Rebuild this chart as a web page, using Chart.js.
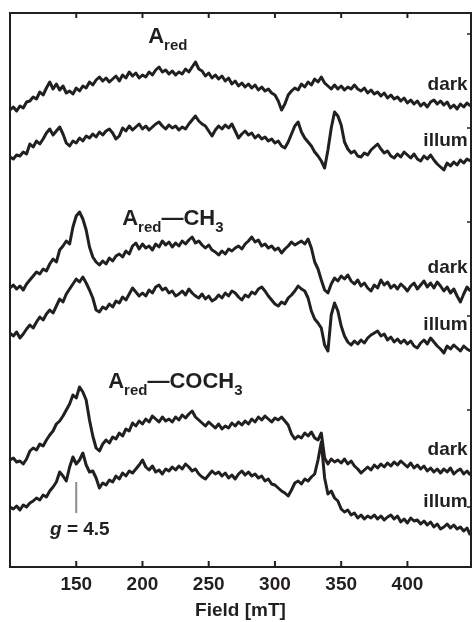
<!DOCTYPE html>
<html>
<head>
<meta charset="utf-8">
<script src="https://cdn.jsdelivr.net/npm/chart.js@4.4.1/dist/chart.umd.min.js"></script>
<style>
  html, body { margin: 0; padding: 0; background: #fff; }
  #wrap { width: 474px; height: 622px; }
</style>
</head>
<body>
<div id="wrap"><canvas id="eprChart" width="474" height="622"></canvas></div>
<script>
// magnetic field [mT], one sample every 2.5 mT
var fields = [
    100,102.5,105,107.5,110,112.5,115,117.5,120,122.5,
    125,127.5,130,132.5,135,137.5,140,142.5,145,147.5,
    150,152.5,155,157.5,160,162.5,165,167.5,170,172.5,
    175,177.5,180,182.5,185,187.5,190,192.5,195,197.5,
    200,202.5,205,207.5,210,212.5,215,217.5,220,222.5,
    225,227.5,230,232.5,235,237.5,240,242.5,245,247.5,
    250,252.5,255,257.5,260,262.5,265,267.5,270,272.5,
    275,277.5,280,282.5,285,287.5,290,292.5,295,297.5,
    300,302.5,305,307.5,310,312.5,315,317.5,320,322.5,
    325,327.5,330,332.5,335,337.5,340,342.5,345,347.5,
    350,352.5,355,357.5,360,362.5,365,367.5,370,372.5,
    375,377.5,380,382.5,385,387.5,390,392.5,395,397.5,
    400,402.5,405,407.5,410,412.5,415,417.5,420,422.5,
    425,427.5,430,432.5,435,437.5,440,442.5,445,447.5
];

// EPR signal (arb. units), each relative to its own baseline
var aredDark = [
    -10,-7,-11,-6,-8,-2,-1,3,1,8,
    5,12,18,11,16,10,14,7,9,6,
    12,9,14,12,18,15,20,23,19,22,
    18,21,24,19,25,22,28,24,27,22,
    25,23,28,25,30,33,28,30,26,29,
    25,28,26,31,28,33,38,31,29,24,
    27,22,25,21,24,19,22,16,19,14,
    17,13,16,12,15,10,13,9,11,7,
    5,-1,-10,-4,5,9,12,10,16,13,
    18,15,21,18,23,17,14,11,15,11,
    14,10,13,11,15,11,9,12,7,10,
    6,8,4,7,2,5,1,3,-1,2,
    -3,0,-4,-1,-6,-3,-7,-2,0,-4,
    -1,-5,-2,-8,-5,-9,-4,-7,-3,-6
];
var aredIllum = [
    -7,-9,-5,-6,-2,-4,6,3,9,6,
    11,17,21,15,19,23,16,7,4,9,
    7,12,9,14,12,16,13,18,15,19,
    21,17,11,14,22,19,24,20,23,26,
    21,24,20,23,26,28,24,21,25,22,
    24,20,23,21,26,30,34,29,26,24,
    19,14,20,24,21,25,22,26,19,12,
    16,19,15,17,12,15,11,13,9,11,
    7,9,4,2,8,16,24,28,18,12,
    8,4,-2,-6,-11,-18,0,22,38,34,
    25,8,1,-3,-1,-6,-7,-3,-5,0,
    3,6,1,-3,-1,-6,-8,-4,-7,-2,
    -5,-8,-4,-9,-11,-6,-9,-5,-10,-14,
    -17,-20,-13,-16,-12,-15,-10,-13,-9,-11
];
var methylDark = [
    -28,-25,-29,-26,-30,-24,-20,-16,-12,-14,
    -9,-11,-4,1,-2,10,14,19,16,33,
    44,48,41,30,13,3,-2,-5,-1,-4,
    2,-1,4,6,3,9,6,14,17,11,
    16,12,14,10,16,13,19,15,18,13,
    17,14,19,16,20,23,17,19,15,12,
    15,10,8,5,9,6,11,9,12,14,
    11,16,19,23,18,20,14,16,12,14,
    10,12,7,11,14,18,15,17,19,16,
    21,12,-2,-9,-20,-30,-33,-24,-18,-21,
    -16,-19,-15,-21,-24,-20,-26,-23,-28,-31,
    -25,-28,-20,-25,-22,-28,-25,-29,-24,-27,
    -31,-26,-23,-29,-25,-21,-27,-23,-28,-22,
    -26,-31,-27,-33,-29,-36,-42,-34,-27,-31
];
var methylIllum = [
    -13,-16,-12,-18,-14,-9,-5,-8,-2,3,
    0,6,10,7,14,21,18,26,31,36,
    41,38,43,37,30,22,10,8,13,11,
    16,13,19,17,23,20,26,32,28,24,
    27,24,30,27,33,35,30,32,27,29,
    24,26,29,25,31,27,24,22,26,21,
    24,19,21,25,22,27,24,29,27,23,
    20,25,23,28,26,31,33,29,24,20,
    16,14,18,16,22,25,29,34,31,29,
    22,9,1,-3,-8,-25,-31,5,17,9,
    -6,-16,-22,-25,-21,-24,-20,-23,-18,-15,
    -13,-11,-16,-14,-20,-17,-22,-19,-23,-20,
    -24,-21,-26,-28,-23,-20,-24,-18,-22,-26,
    -29,-33,-26,-29,-25,-28,-31,-26,-29,-31
];
var acetylDark = [
    -10,-8,-12,-11,-14,-9,-1,2,0,6,
    4,10,15,19,26,29,34,40,46,55,
    52,63,58,50,30,14,2,-1,6,10,
    7,13,11,17,14,21,19,27,24,29,
    26,31,28,34,31,28,33,29,31,28,
    33,30,35,32,36,39,33,30,27,24,
    28,25,22,26,21,24,22,27,24,28,
    25,29,26,31,28,33,30,34,31,28,
    32,30,33,29,25,16,11,14,12,17,
    14,18,12,10,17,-8,-14,-9,-12,-10,
    -13,-9,-14,-11,-16,-19,-23,-20,-17,-20,
    -15,-18,-14,-17,-13,-16,-12,-15,-11,-14,
    -17,-13,-18,-15,-19,-16,-21,-18,-22,-19,
    -23,-19,-22,-18,-24,-21,-19,-24,-21,-25
];
var acetylIllum = [
    -7,-9,-6,-10,-5,-7,-3,-1,2,0,
    5,3,9,13,18,28,24,19,33,43,
    36,40,47,35,28,29,22,12,17,15,
    20,18,24,21,27,24,29,27,31,35,
    40,33,30,34,28,30,26,31,29,33,
    30,34,31,36,33,29,31,26,23,21,
    25,29,26,28,24,27,22,25,21,26,
    29,25,28,24,26,22,24,19,21,16,
    15,12,9,7,4,10,17,19,16,21,
    19,23,26,40,58,22,6,9,2,-1,
    -9,-12,-10,-15,-13,-18,-15,-19,-16,-18,
    -15,-19,-16,-20,-17,-15,-19,-16,-22,-19,
    -23,-18,-21,-20,-24,-21,-25,-22,-27,-24,
    -29,-27,-24,-28,-25,-29,-27,-31,-28,-35
];

var spectra = [aredDark, aredIllum, methylDark, methylIllum, acetylDark, acetylIllum];
// vertical stacking offset of each spectrum
var baselines = [467, 417, 307, 247, 117, 67];
var conditions = ['dark', 'illum', 'dark', 'illum', 'dark', 'illum'];
var conditionLevels = [477, 421, 294, 237, 112, 60];

var fieldTicks = [150, 200, 250, 300, 350, 400];
var rightTicks = [60, 157, 251, 345, 439, 533];

var compounds = [
    { parts: [['A', 0], ['red', 1]], field: 204.3, level: 524 },
    { parts: [['A', 0], ['red', 1], ['\u2014CH', 0], ['3', 1]], field: 184.7, level: 342 },
    { parts: [['A', 0], ['red', 1], ['\u2014COCH', 0], ['3', 1]], field: 174.1, level: 179 }
];
var gMarker = { field: 150, from: 54, to: 85, labelField: 130.2, labelLevel: 32 };

var ink = '#231f20';
var family = '"Liberation Sans", Arial, Helvetica, sans-serif';

var datasets = spectra.map(function (s, k) {
    return {
        label: conditions[k],
        data: fields.map(function (f, i) { return { x: f, y: baselines[k] + s[i] }; }),
        borderColor: ink,
        borderWidth: 3,
        borderJoinStyle: 'round',
        pointRadius: 0,
        tension: 0,
        fill: false
    };
});

function stroke(ctx, x1, y1, x2, y2) {
    ctx.beginPath();
    ctx.moveTo(x1, y1);
    ctx.lineTo(x2, y2);
    ctx.stroke();
}

var decorations = {
    id: 'decorations',
    afterDraw: function (chart) {
        var ctx = chart.ctx;
        var a = chart.chartArea;
        var x = chart.scales.x;
        var y = chart.scales.y;
        ctx.save();

        ctx.strokeStyle = ink;
        ctx.lineWidth = 2;
        ctx.strokeRect(a.left, a.top, a.right - a.left, a.bottom - a.top);
        x.ticks.forEach(function (t) {
            var px = x.getPixelForValue(t.value);
            stroke(ctx, px, a.top, px, a.top + 5);
            stroke(ctx, px, a.bottom, px, a.bottom - 6);
        });
        ctx.lineWidth = 1.5;
        rightTicks.forEach(function (v) {
            var py = y.getPixelForValue(v);
            stroke(ctx, a.right, py, a.right - 4, py);
        });

        // g = 4.5 marker
        ctx.strokeStyle = '#8c8c8c';
        ctx.lineWidth = 2;
        var gx = x.getPixelForValue(gMarker.field);
        stroke(ctx, gx, y.getPixelForValue(gMarker.from), gx, y.getPixelForValue(gMarker.to));

        ctx.fillStyle = ink;
        ctx.textBaseline = 'alphabetic';
        ctx.textAlign = 'left';
        var lx = x.getPixelForValue(gMarker.labelField);
        var ly = y.getPixelForValue(gMarker.labelLevel);
        ctx.font = 'italic bold 19px ' + family;
        ctx.fillText('g', lx, ly);
        lx += ctx.measureText('g').width;
        ctx.font = 'bold 19px ' + family;
        ctx.fillText(' = 4.5', lx, ly);

        // dark / illum
        ctx.textAlign = 'right';
        conditions.forEach(function (c, k) {
            ctx.fillText(c, x.getPixelForValue(445.5), y.getPixelForValue(conditionLevels[k]));
        });

        // compound names with subscripts
        ctx.textAlign = 'left';
        compounds.forEach(function (c) {
            var cx = x.getPixelForValue(c.field);
            var cy = y.getPixelForValue(c.level);
            c.parts.forEach(function (p) {
                ctx.font = p[1] ? 'bold 15px ' + family : 'bold 22px ' + family;
                ctx.fillText(p[0], cx, cy + (p[1] ? 7 : 0));
                cx += ctx.measureText(p[0]).width;
            });
        });

        ctx.restore();
    }
};

var eprChart = new Chart(document.getElementById('eprChart').getContext('2d'), {
    type: 'line',
    data: { datasets: datasets },
    options: {
        responsive: false,
        animation: false,
        events: [],
        layout: { padding: { left: 10, right: 3, top: 13, bottom: 0 } },
        plugins: { legend: { display: false }, tooltip: { enabled: false } },
        scales: {
            x: {
                type: 'linear',
                min: 100,
                max: 448,
                afterBuildTicks: function (scale) {
                    scale.ticks = fieldTicks.map(function (v) { return { value: v }; });
                },
                afterFit: function (scale) {
                    scale.height = 55;
                },
                grid: { display: false, drawTicks: false },
                border: { display: false },
                ticks: {
                    color: ink,
                    padding: 6,
                    maxRotation: 0,
                    font: { family: family, size: 19, weight: 'bold' }
                },
                title: {
                    display: true,
                    text: 'Field [mT]',
                    color: ink,
                    padding: { top: 0, bottom: 0 },
                    font: { family: family, size: 19, weight: 'bold' }
                }
            },
            y: {
                type: 'linear',
                display: false,
                min: 0,
                max: 554
            }
        }
    },
    plugins: [decorations]
});
</script>
</body>
</html>
